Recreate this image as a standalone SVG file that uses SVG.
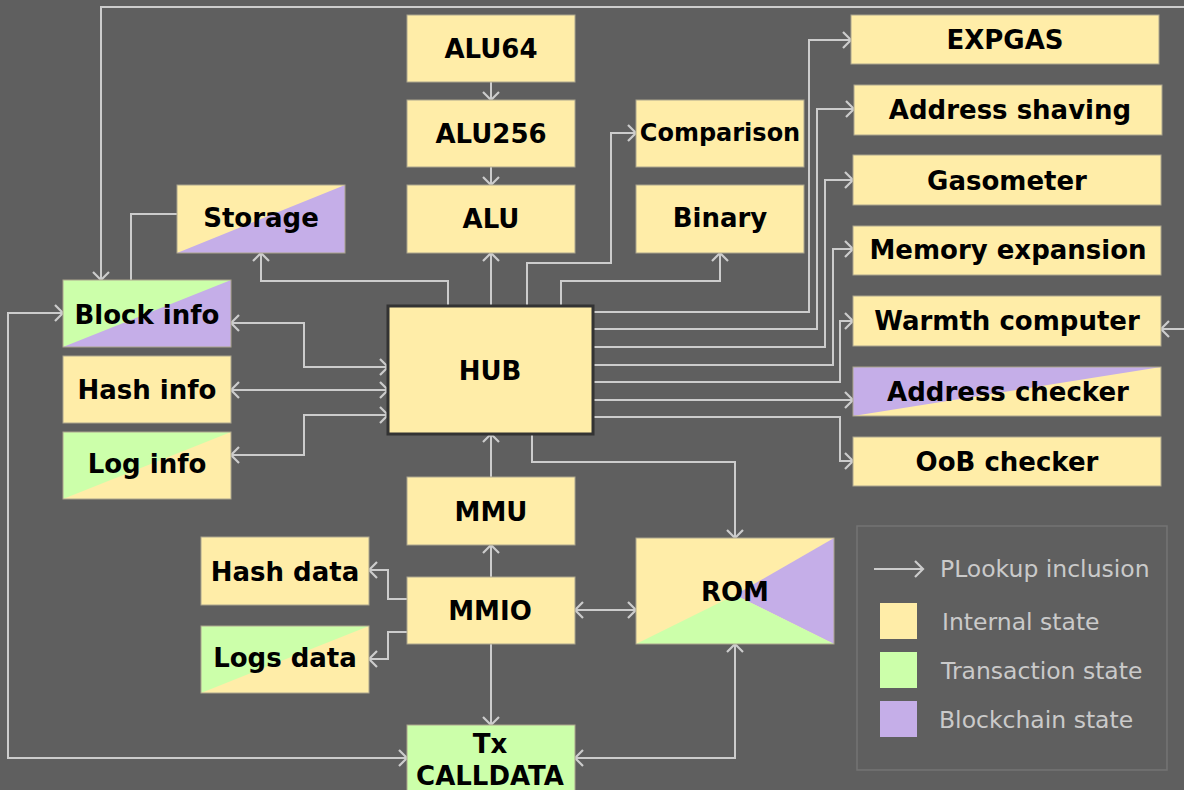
<svg xmlns="http://www.w3.org/2000/svg" width="1184" height="790" viewBox="0 0 1184 790">
<defs>
<marker id="arr" markerUnits="userSpaceOnUse" markerWidth="20" markerHeight="20" viewBox="-10 -10 20 20" refX="0" refY="0" orient="auto-start-reverse">
<path d="M-8,-8 L0,0 L-8,8" fill="none" stroke="#cccccc" stroke-width="2.2"/>
</marker>
<style>
.bg{fill:#5f5f5f}
.y{fill:#ffeda8}
.g{fill:#ccffaa}
.p{fill:#c5aee8}
.box{fill:none;stroke:#aba58e;stroke-width:1}
.t{font-family:"DejaVu Sans","Liberation Sans",sans-serif;font-weight:bold;font-size:26px;fill:#000;text-anchor:middle;dominant-baseline:central}
.c{fill:none;stroke:#cccccc;stroke-width:2}
.ca{fill:none;stroke:#cccccc;stroke-width:2;marker-end:url(#arr)}
.cb{fill:none;stroke:#cccccc;stroke-width:2;marker-start:url(#arr);marker-end:url(#arr)}
.lt{font-family:"DejaVu Sans","Liberation Sans",sans-serif;font-size:23.5px;fill:#cacaca}
</style>
</defs>
<rect class="bg" x="0" y="0" width="1184" height="790"/>

<g id="connectors">
<path class="ca" d="M491,82 V100"/>
<path class="ca" d="M491,167 V185"/>
<path class="ca" d="M491,306 V253"/>
<path class="ca" d="M448,306 V281 H261 V253"/>
<path class="ca" d="M527,306 V263 H611 V133 H636"/>
<path class="ca" d="M561,306 V281 H720 V253"/>
<path class="c" d="M177,214 H131 V280"/>
<path class="cb" d="M101,280 V7 H1196 V329 H1161"/>
<path class="cb" d="M63,313 H8 V758 H407"/>
<path class="cb" d="M231,323 H304 V367 H388"/>
<path class="cb" d="M231,390 H388"/>
<path class="cb" d="M231,455 H304 V415 H388"/>
<path class="ca" d="M491,477 V434"/>
<path class="ca" d="M532,434 V462 H735 V538"/>
<path class="ca" d="M491,577 V545"/>
<path class="ca" d="M407,599 H388 V570 H369"/>
<path class="ca" d="M407,632 H388 V659 H369"/>
<path class="cb" d="M575,610 H636"/>
<path class="ca" d="M491,644 V725"/>
<path class="cb" d="M575,758 H735 V644"/>
<path class="ca" d="M594,312 H809 V40 H851"/>
<path class="ca" d="M594,329 H817 V109 H854"/>
<path class="ca" d="M594,347 H825 V180 H853"/>
<path class="ca" d="M594,365 H833 V249 H853"/>
<path class="ca" d="M594,382 H840 V321 H853"/>
<path class="ca" d="M594,400 H853"/>
<path class="ca" d="M594,417 H840 V461 H853"/>
</g>

<g id="alu64"><rect class="y" x="407" y="15" width="168" height="67"/><rect class="box" x="407" y="15" width="168" height="67"/><text class="t" x="491" y="49">ALU64</text></g>
<g id="alu256"><rect class="y" x="407" y="100" width="168" height="67"/><rect class="box" x="407" y="100" width="168" height="67"/><text class="t" x="491" y="134">ALU256</text></g>
<g id="alu"><rect class="y" x="407" y="185" width="168" height="68"/><rect class="box" x="407" y="185" width="168" height="68"/><text class="t" x="491" y="219">ALU</text></g>
<g id="comparison"><rect class="y" x="636" y="100" width="168" height="67"/><rect class="box" x="636" y="100" width="168" height="67"/><text class="t" x="720" y="133" style="font-size:24px">Comparison</text></g>
<g id="binary"><rect class="y" x="636" y="185" width="168" height="68"/><rect class="box" x="636" y="185" width="168" height="68"/><text class="t" x="720" y="218">Binary</text></g>

<g id="storage"><rect class="y" x="177" y="185" width="168" height="68"/><polygon class="p" points="345,185 345,253 177,253"/><rect class="box" x="177" y="185" width="168" height="68"/><text class="t" x="261" y="218">Storage</text></g>

<g id="expgas"><rect class="y" x="851" y="15" width="308" height="49"/><rect class="box" x="851" y="15" width="308" height="49"/><text class="t" x="1005" y="40">EXPGAS</text></g>
<g id="address-shaving"><rect class="y" x="854" y="85" width="308" height="50"/><rect class="box" x="854" y="85" width="308" height="50"/><text class="t" x="1010" y="110">Address shaving</text></g>
<g id="gasometer"><rect class="y" x="853" y="155" width="308" height="50"/><rect class="box" x="853" y="155" width="308" height="50"/><text class="t" x="1007" y="181">Gasometer</text></g>
<g id="memory-expansion"><rect class="y" x="853" y="226" width="308" height="49"/><rect class="box" x="853" y="226" width="308" height="49"/><text class="t" x="1008" y="250">Memory expansion</text></g>
<g id="warmth-computer"><rect class="y" x="853" y="296" width="308" height="50"/><rect class="box" x="853" y="296" width="308" height="50"/><text class="t" x="1007" y="321">Warmth computer</text></g>
<g id="address-checker"><rect class="y" x="853" y="367" width="308" height="49"/><polygon class="p" points="853,367 1161,367 853,416"/><rect class="box" x="853" y="367" width="308" height="49"/><text class="t" x="1008" y="392">Address checker</text></g>
<g id="oob-checker"><rect class="y" x="853" y="437" width="308" height="49"/><rect class="box" x="853" y="437" width="308" height="49"/><text class="t" x="1007" y="462">OoB checker</text></g>

<g id="block-info"><rect class="g" x="63" y="280" width="168" height="67"/><polygon class="p" points="231,280 231,347 63,347"/><rect class="box" x="63" y="280" width="168" height="67"/><text class="t" x="147" y="315">Block info</text></g>
<g id="hash-info"><rect class="y" x="63" y="356" width="168" height="67"/><rect class="box" x="63" y="356" width="168" height="67"/><text class="t" x="147" y="390">Hash info</text></g>
<g id="log-info"><rect class="g" x="63" y="432" width="168" height="67"/><polygon class="y" points="231,432 231,499 63,499"/><rect class="box" x="63" y="432" width="168" height="67"/><text class="t" x="147" y="464">Log info</text></g>

<g id="hub"><rect x="388" y="306" width="205" height="128" fill="#ffeda8" stroke="#333333" stroke-width="3"/><text class="t" x="490" y="371">HUB</text></g>

<g id="mmu"><rect class="y" x="407" y="477" width="168" height="68"/><rect class="box" x="407" y="477" width="168" height="68"/><text class="t" x="491" y="512">MMU</text></g>
<g id="mmio"><rect class="y" x="407" y="577" width="168" height="67"/><rect class="box" x="407" y="577" width="168" height="67"/><text class="t" x="490" y="611">MMIO</text></g>
<g id="hash-data"><rect class="y" x="201" y="537" width="168" height="68"/><rect class="box" x="201" y="537" width="168" height="68"/><text class="t" x="285" y="572">Hash data</text></g>
<g id="logs-data"><rect class="g" x="201" y="626" width="168" height="67"/><polygon class="y" points="369,626 369,693 201,693"/><rect class="box" x="201" y="626" width="168" height="67"/><text class="t" x="285" y="658">Logs data</text></g>
<g id="tx-calldata"><rect class="g" x="407" y="725" width="168" height="70"/><rect class="box" x="407" y="725" width="168" height="70"/><text class="t" x="490" y="744">Tx</text><text class="t" x="490" y="776">CALLDATA</text></g>
<g id="rom"><rect class="y" x="636" y="538" width="198" height="106"/><polygon class="p" points="834,538 834,644 735,595"/><polygon class="g" points="636,644 735,595 834,644"/><rect class="box" x="636" y="538" width="198" height="106"/><text class="t" x="735" y="592">ROM</text></g>

<g id="legend">
<rect x="857" y="526" width="310" height="244" fill="none" stroke="#747474" stroke-width="1.5"/>
<path class="ca" d="M874,569 H923"/>
<text class="lt" x="940" y="577">PLookup inclusion</text>
<rect class="y" x="880" y="603" width="37" height="36"/>
<text class="lt" x="942" y="630">Internal state</text>
<rect class="g" x="880" y="652" width="37" height="36"/>
<text class="lt" x="941" y="679">Transaction state</text>
<rect class="p" x="880" y="701" width="37" height="36"/>
<text class="lt" x="939" y="728">Blockchain state</text>
</g>
</svg>
